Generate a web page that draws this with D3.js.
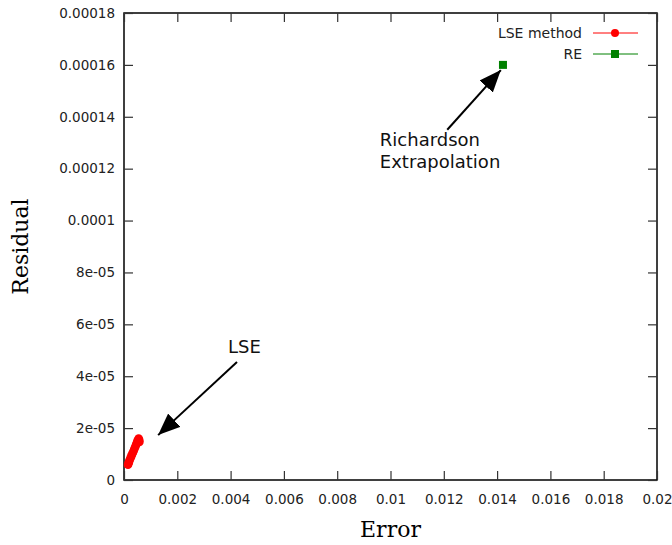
<!DOCTYPE html>
<html>
<head>
<meta charset="utf-8">
<script src="https://cdn.jsdelivr.net/npm/d3@7"></script>
<style>
  body { margin: 0; background: #fff; }
  svg text { font-family: "DejaVu Sans", sans-serif; }
</style>
</head>
<body>
<div class="canvas"></div>
<script>
// LSE method points (error, residual)
const lseError = [0.00015, 0.00017, 0.00019, 0.00021, 0.00024, 0.00027, 0.0003, 0.00033, 0.00036,
  0.00039, 0.00042, 0.00045, 0.00047, 0.0005, 0.00052, 0.00055, 0.00057, 0.00058];
const lseResidual = [5.9e-06, 6.5e-06, 7.0e-06, 7.7e-06, 8.4e-06, 9.1e-06, 9.8e-06, 1.05e-05, 1.12e-05,
  1.2e-05, 1.27e-05, 1.35e-05, 1.41e-05, 1.48e-05, 1.54e-05, 1.6e-05, 1.55e-05, 1.47e-05];

// Richardson extrapolation point
const reError = [0.01422];
const reResidual = [0.00016];

const xTicks = [0, 0.002, 0.004, 0.006, 0.008, 0.01, 0.012, 0.014, 0.016, 0.018, 0.02];
const xTickLabels = ['0', '0.002', '0.004', '0.006', '0.008', '0.01', '0.012', '0.014', '0.016', '0.018', '0.02'];
const yTicks = [0, 2e-05, 4e-05, 6e-05, 8e-05, 0.0001, 0.00012, 0.00014, 0.00016, 0.00018];
const yTickLabels = ['0', '2e-05', '4e-05', '6e-05', '8e-05', '0.0001', '0.00012', '0.00014', '0.00016', '0.00018'];

const legendNames = ['LSE method', 'RE'];
const legendColors = ['#ff0000', '#008000'];

// annotations: label, text anchor (data), arrow tail (data), arrow tip (data)
const notes = [
  { lines: ['LSE'], at: [0.0039, 4.88e-05], from: [0.00424, 4.55e-05], to: [0.00128, 1.73e-05] },
  { lines: ['Richardson', 'Extrapolation'], at: [0.0096, 0.0001287], from: [0.01213, 0.000135], to: [0.01414, 0.000158] }
];

const width = 672;
const height = 545;
const margin = { top: 13, right: 15, bottom: 65, left: 124 };

const svg = d3.select('.canvas')
  .append('svg')
  .attr('width', width)
  .attr('height', height);

const x = d3.scaleLinear().domain([0, 0.02]).range([margin.left, width - margin.right]);
const y = d3.scaleLinear().domain([0, 0.00018]).range([height - margin.bottom, margin.top]);

const tickLen = 9;

// frame
svg.append('rect')
  .attr('x', x(0)).attr('y', y(0.00018))
  .attr('width', x(0.02) - x(0)).attr('height', y(0) - y(0.00018))
  .attr('fill', 'none').attr('stroke', '#000').attr('stroke-width', 1.5);

// inward ticks on all sides
const xAxisB = d3.axisBottom(x).tickValues(xTicks).tickSize(-tickLen).tickPadding(14)
  .tickFormat((d, i) => xTickLabels[i]);
const xAxisT = d3.axisTop(x).tickValues(xTicks).tickSize(-tickLen).tickFormat('');
const yAxisL = d3.axisLeft(y).tickValues(yTicks).tickSize(-tickLen).tickPadding(9)
  .tickFormat((d, i) => yTickLabels[i]);
const yAxisR = d3.axisRight(y).tickValues(yTicks).tickSize(-tickLen).tickFormat('');

const styleAxis = g => {
  g.select('.domain').remove();
  g.selectAll('.tick line').attr('stroke', '#333').attr('stroke-width', 1.2);
  g.selectAll('.tick text').attr('fill', '#222').style('font-size', '13.5px');
};

svg.append('g').attr('transform', `translate(0, ${y(0)})`).call(xAxisB).call(styleAxis);
svg.append('g').attr('transform', `translate(0, ${y(0.00018)})`).call(xAxisT).call(styleAxis);
svg.append('g').attr('transform', `translate(${x(0)}, 0)`).call(yAxisL).call(styleAxis);
svg.append('g').attr('transform', `translate(${x(0.02)}, 0)`).call(yAxisR).call(styleAxis);

// axis titles
svg.append('text')
  .attr('x', (x(0) + x(0.02)) / 2).attr('y', 537)
  .attr('text-anchor', 'middle')
  .style('font-family', '"DejaVu Serif", serif').style('font-size', '22px')
  .text('Error');

svg.append('text')
  .attr('transform', `translate(28, ${(y(0) + y(0.00018)) / 2}) rotate(-90)`)
  .attr('text-anchor', 'middle')
  .style('font-family', '"DejaVu Serif", serif').style('font-size', '22px')
  .text('Residual');

// arrowhead
svg.append('defs').append('marker')
  .attr('id', 'head')
  .attr('viewBox', '0 0 10 10')
  .attr('refX', 10).attr('refY', 5)
  .attr('markerUnits', 'userSpaceOnUse')
  .attr('orient', 'auto')
  .attr('markerWidth', 22).attr('markerHeight', 18)
  .attr('preserveAspectRatio', 'none')
  .append('path').attr('d', 'M0,0 L10,5 L0,10 Z').attr('fill', '#000');

const lseData = lseError.map((e, i) => ({ e, r: lseResidual[i] }));
const reData = reError.map((e, i) => ({ e, r: reResidual[i] }));

svg.append('g').selectAll('circle').data(lseData).enter().append('circle')
  .attr('cx', d => x(d.e)).attr('cy', d => y(d.r)).attr('r', 4.3)
  .attr('fill', legendColors[0]);

svg.append('g').selectAll('rect').data(reData).enter().append('rect')
  .attr('x', d => x(d.e) - 4).attr('y', d => y(d.r) - 4)
  .attr('width', 8).attr('height', 8)
  .attr('fill', legendColors[1]);

// annotations
notes.forEach(n => {
  svg.append('line')
    .attr('x1', x(n.from[0])).attr('y1', y(n.from[1]))
    .attr('x2', x(n.to[0])).attr('y2', y(n.to[1]))
    .attr('stroke', '#000').attr('stroke-width', 2)
    .attr('marker-end', 'url(#head)');
  const t = svg.append('text')
    .attr('x', x(n.at[0])).attr('y', y(n.at[1]))
    .attr('fill', '#111').style('font-size', '18px');
  n.lines.forEach((l, i) => {
    t.append('tspan').attr('x', x(n.at[0])).attr('dy', i === 0 ? 0 : 22).text(l);
  });
});

// legend
const legend = svg.append('g');
legendNames.forEach((name, i) => {
  const ly = 33 + i * 21;
  legend.append('text')
    .attr('x', 582).attr('y', ly).attr('dy', '0.35em')
    .attr('text-anchor', 'end').attr('fill', '#222')
    .style('font-size', '14px').text(name);
  legend.append('line')
    .attr('x1', 593).attr('x2', 638).attr('y1', ly).attr('y2', ly)
    .attr('stroke', legendColors[i]).attr('stroke-width', 1);
  if (i === 0) {
    legend.append('circle').attr('cx', 615).attr('cy', ly).attr('r', 4).attr('fill', legendColors[i]);
  } else {
    legend.append('rect').attr('x', 611).attr('y', ly - 4).attr('width', 8).attr('height', 8).attr('fill', legendColors[i]);
  }
});
</script>
</body>
</html>
